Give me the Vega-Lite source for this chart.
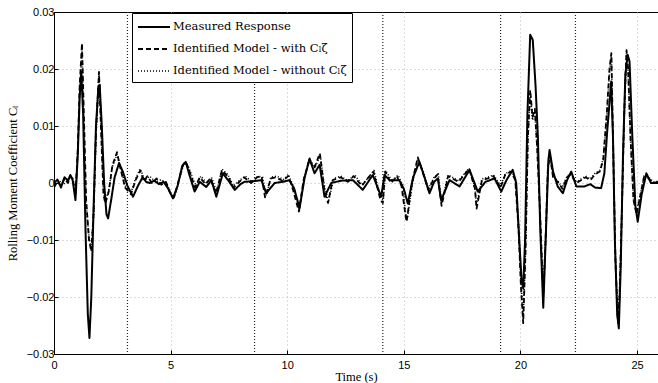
{
  "$schema": "https://vega.github.io/schema/vega-lite/v6.json",
  "width": 604,
  "height": 342,
  "autosize": {"type": "none"},
  "padding": {"left": 54, "top": 12, "right": 0, "bottom": 29},
  "background": "white",
  "config": {
    "view": {"stroke": "black", "strokeWidth": 1},
    "axis": {
      "domainColor": "black",
      "tickColor": "black",
      "tickSize": -4,
      "labelFont": "Liberation Sans",
      "labelFontSize": 11,
      "labelColor": "black",
      "titleFont": "Liberation Serif",
      "titleFontSize": 12.5,
      "titleFontWeight": "normal",
      "titleColor": "black",
      "gridColor": "#b8b8b8",
      "gridDash": [1, 3],
      "gridWidth": 1
    }
  },
  "layer": [
    {
      "data": {"values": [{"time": 3.15}, {"time": 8.6}, {"time": 14.1}, {"time": 19.15}, {"time": 22.36}]},
      "mark": {"type": "rule", "color": "#222", "strokeWidth": 1.2, "strokeDash": [1, 2]},
      "encoding": {"x": {"field": "time", "type": "quantitative", "scale": {"domain": [0, 25.9]}}}
    },
    {
      "data": {"values": [
{"time":0.0,"value":0.0000,"series":"m"},{"time":0.15,"value":0.0006,"series":"m"},{"time":0.3,"value":-0.0008,"series":"m"},{"time":0.45,"value":0.0010,"series":"m"},{"time":0.6,"value":0.0004,"series":"m"},{"time":0.7,"value":0.0014,"series":"m"},{"time":0.8,"value":0.0005,"series":"m"},{"time":0.92,"value":-0.0030,"series":"m"},{"time":1.02,"value":0.0050,"series":"m"},{"time":1.1,"value":0.0150,"series":"m"},{"time":1.17,"value":0.0195,"series":"m"},{"time":1.25,"value":0.0120,"series":"m"},{"time":1.35,"value":-0.0080,"series":"m"},{"time":1.45,"value":-0.0230,"series":"m"},{"time":1.52,"value":-0.0272,"series":"m"},{"time":1.6,"value":-0.0200,"series":"m"},{"time":1.7,"value":-0.0040,"series":"m"},{"time":1.8,"value":0.0100,"series":"m"},{"time":1.9,"value":0.0165,"series":"m"},{"time":1.96,"value":0.0172,"series":"m"},{"time":2.05,"value":0.0100,"series":"m"},{"time":2.15,"value":0.0000,"series":"m"},{"time":2.25,"value":-0.0055,"series":"m"},{"time":2.32,"value":-0.0062,"series":"m"},{"time":2.45,"value":-0.0030,"series":"m"},{"time":2.6,"value":0.0010,"series":"m"},{"time":2.79,"value":0.0035,"series":"m"},{"time":2.95,"value":0.0020,"series":"m"},{"time":3.15,"value":-0.0005,"series":"m"},{"time":3.39,"value":-0.0024,"series":"m"},{"time":3.6,"value":-0.0005,"series":"m"},{"time":3.8,"value":0.0010,"series":"m"},{"time":3.95,"value":0.0002,"series":"m"},{"time":4.1,"value":0.0000,"series":"m"},{"time":4.3,"value":0.0004,"series":"m"},{"time":4.5,"value":-0.0002,"series":"m"},{"time":4.7,"value":0.0002,"series":"m"},{"time":4.9,"value":-0.0010,"series":"m"},{"time":5.1,"value":-0.0027,"series":"m"},{"time":5.3,"value":-0.0005,"series":"m"},{"time":5.5,"value":0.0030,"series":"m"},{"time":5.65,"value":0.0037,"series":"m"},{"time":5.8,"value":0.0015,"series":"m"},{"time":6.03,"value":-0.0015,"series":"m"},{"time":6.25,"value":0.0002,"series":"m"},{"time":6.53,"value":-0.0007,"series":"m"},{"time":6.75,"value":0.0005,"series":"m"},{"time":6.96,"value":-0.0024,"series":"m"},{"time":7.24,"value":0.0017,"series":"m"},{"time":7.5,"value":0.0003,"series":"m"},{"time":7.75,"value":-0.0012,"series":"m"},{"time":8.0,"value":-0.0002,"series":"m"},{"time":8.17,"value":0.0002,"series":"m"},{"time":8.5,"value":0.0003,"series":"m"},{"time":8.89,"value":0.0005,"series":"m"},{"time":9.1,"value":-0.0018,"series":"m"},{"time":9.46,"value":0.0000,"series":"m"},{"time":9.8,"value":0.0002,"series":"m"},{"time":10.1,"value":0.0005,"series":"m"},{"time":10.3,"value":-0.0010,"series":"m"},{"time":10.53,"value":-0.0044,"series":"m"},{"time":10.75,"value":0.0010,"series":"m"},{"time":10.96,"value":0.0043,"series":"m"},{"time":11.17,"value":0.0017,"series":"m"},{"time":11.39,"value":0.0032,"series":"m"},{"time":11.6,"value":-0.0024,"series":"m"},{"time":11.89,"value":0.0000,"series":"m"},{"time":12.3,"value":0.0004,"series":"m"},{"time":12.82,"value":0.0005,"series":"m"},{"time":13.24,"value":-0.0012,"series":"m"},{"time":13.67,"value":0.0014,"series":"m"},{"time":14.03,"value":-0.0024,"series":"m"},{"time":14.17,"value":0.0014,"series":"m"},{"time":14.39,"value":0.0005,"series":"m"},{"time":14.8,"value":0.0005,"series":"m"},{"time":15.0,"value":-0.0010,"series":"m"},{"time":15.17,"value":-0.0036,"series":"m"},{"time":15.4,"value":0.0010,"series":"m"},{"time":15.67,"value":0.0037,"series":"m"},{"time":15.85,"value":0.0015,"series":"m"},{"time":16.1,"value":-0.0018,"series":"m"},{"time":16.3,"value":0.0002,"series":"m"},{"time":16.46,"value":0.0008,"series":"m"},{"time":16.6,"value":-0.0030,"series":"m"},{"time":16.96,"value":0.0005,"series":"m"},{"time":17.39,"value":-0.0006,"series":"m"},{"time":17.82,"value":0.0023,"series":"m"},{"time":18.17,"value":-0.0015,"series":"m"},{"time":18.5,"value":0.0002,"series":"m"},{"time":18.89,"value":0.0008,"series":"m"},{"time":19.18,"value":-0.0015,"series":"m"},{"time":19.4,"value":0.0005,"series":"m"},{"time":19.67,"value":0.0023,"series":"m"},{"time":19.82,"value":0.0000,"series":"m"},{"time":19.95,"value":-0.0100,"series":"m"},{"time":20.05,"value":-0.0170,"series":"m"},{"time":20.12,"value":-0.0185,"series":"m"},{"time":20.2,"value":-0.0100,"series":"m"},{"time":20.3,"value":0.0120,"series":"m"},{"time":20.42,"value":0.0260,"series":"m"},{"time":20.53,"value":0.0251,"series":"m"},{"time":20.65,"value":0.0170,"series":"m"},{"time":20.75,"value":0.0081,"series":"m"},{"time":20.85,"value":-0.0080,"series":"m"},{"time":20.98,"value":-0.0219,"series":"m"},{"time":21.1,"value":-0.0080,"series":"m"},{"time":21.2,"value":0.0040,"series":"m"},{"time":21.25,"value":0.0058,"series":"m"},{"time":21.4,"value":0.0020,"series":"m"},{"time":21.6,"value":-0.0006,"series":"m"},{"time":21.82,"value":-0.0018,"series":"m"},{"time":22.0,"value":0.0005,"series":"m"},{"time":22.18,"value":0.0020,"series":"m"},{"time":22.4,"value":-0.0006,"series":"m"},{"time":22.75,"value":-0.0006,"series":"m"},{"time":23.0,"value":-0.0002,"series":"m"},{"time":23.2,"value":-0.0008,"series":"m"},{"time":23.46,"value":-0.0009,"series":"m"},{"time":23.6,"value":0.0017,"series":"m"},{"time":23.72,"value":0.0090,"series":"m"},{"time":23.82,"value":0.0140,"series":"m"},{"time":23.89,"value":0.0178,"series":"m"},{"time":23.97,"value":0.0080,"series":"m"},{"time":24.05,"value":-0.0100,"series":"m"},{"time":24.15,"value":-0.0230,"series":"m"},{"time":24.22,"value":-0.0255,"series":"m"},{"time":24.3,"value":-0.0150,"series":"m"},{"time":24.4,"value":0.0050,"series":"m"},{"time":24.5,"value":0.0190,"series":"m"},{"time":24.6,"value":0.0225,"series":"m"},{"time":24.68,"value":0.0213,"series":"m"},{"time":24.8,"value":0.0080,"series":"m"},{"time":24.93,"value":-0.0040,"series":"m"},{"time":25.03,"value":-0.0068,"series":"m"},{"time":25.2,"value":-0.0020,"series":"m"},{"time":25.4,"value":0.0017,"series":"m"},{"time":25.6,"value":0.0000,"series":"m"},{"time":25.9,"value":0.0000,"series":"m"},
{"time":0.0,"value":-0.0008,"series":"w"},{"time":0.15,"value":0.0003,"series":"w"},{"time":0.3,"value":-0.0005,"series":"w"},{"time":0.45,"value":0.0008,"series":"w"},{"time":0.6,"value":0.0000,"series":"w"},{"time":0.7,"value":0.0012,"series":"w"},{"time":0.8,"value":0.0008,"series":"w"},{"time":0.92,"value":-0.0022,"series":"w"},{"time":1.02,"value":0.0060,"series":"w"},{"time":1.1,"value":0.0170,"series":"w"},{"time":1.2,"value":0.0245,"series":"w"},{"time":1.28,"value":0.0120,"series":"w"},{"time":1.38,"value":-0.0030,"series":"w"},{"time":1.5,"value":-0.0100,"series":"w"},{"time":1.6,"value":-0.0120,"series":"w"},{"time":1.7,"value":-0.0050,"series":"w"},{"time":1.8,"value":0.0090,"series":"w"},{"time":1.93,"value":0.0195,"series":"w"},{"time":2.02,"value":0.0090,"series":"w"},{"time":2.12,"value":-0.0020,"series":"w"},{"time":2.2,"value":-0.0036,"series":"w"},{"time":2.35,"value":-0.0015,"series":"w"},{"time":2.5,"value":0.0030,"series":"w"},{"time":2.7,"value":0.0054,"series":"w"},{"time":2.85,"value":0.0025,"series":"w"},{"time":3.05,"value":-0.0008,"series":"w"},{"time":3.3,"value":-0.0020,"series":"w"},{"time":3.5,"value":0.0005,"series":"w"},{"time":3.7,"value":0.0022,"series":"w"},{"time":3.85,"value":0.0003,"series":"w"},{"time":4.0,"value":0.0012,"series":"w"},{"time":4.2,"value":0.0000,"series":"w"},{"time":4.4,"value":0.0008,"series":"w"},{"time":4.6,"value":-0.0003,"series":"w"},{"time":4.8,"value":0.0002,"series":"w"},{"time":5.0,"value":-0.0020,"series":"w"},{"time":5.15,"value":-0.0025,"series":"w"},{"time":5.35,"value":0.0005,"series":"w"},{"time":5.55,"value":0.0035,"series":"w"},{"time":5.7,"value":0.0033,"series":"w"},{"time":5.9,"value":0.0010,"series":"w"},{"time":6.05,"value":-0.0008,"series":"w"},{"time":6.25,"value":0.0010,"series":"w"},{"time":6.5,"value":-0.0002,"series":"w"},{"time":6.7,"value":0.0008,"series":"w"},{"time":6.95,"value":-0.0018,"series":"w"},{"time":7.2,"value":0.0022,"series":"w"},{"time":7.45,"value":0.0012,"series":"w"},{"time":7.7,"value":-0.0008,"series":"w"},{"time":8.0,"value":0.0004,"series":"w"},{"time":8.15,"value":0.0010,"series":"w"},{"time":8.45,"value":0.0000,"series":"w"},{"time":8.7,"value":0.0010,"series":"w"},{"time":8.9,"value":0.0012,"series":"w"},{"time":9.05,"value":-0.0025,"series":"w"},{"time":9.3,"value":0.0008,"series":"w"},{"time":9.5,"value":0.0010,"series":"w"},{"time":9.8,"value":0.0004,"series":"w"},{"time":10.05,"value":0.0012,"series":"w"},{"time":10.25,"value":-0.0012,"series":"w"},{"time":10.5,"value":-0.0050,"series":"w"},{"time":10.7,"value":0.0005,"series":"w"},{"time":10.95,"value":0.0040,"series":"w"},{"time":11.15,"value":0.0025,"series":"w"},{"time":11.4,"value":0.0052,"series":"w"},{"time":11.6,"value":-0.0015,"series":"w"},{"time":11.75,"value":-0.0035,"series":"w"},{"time":11.95,"value":0.0005,"series":"w"},{"time":12.3,"value":0.0010,"series":"w"},{"time":12.6,"value":0.0002,"series":"w"},{"time":12.85,"value":0.0012,"series":"w"},{"time":13.2,"value":-0.0005,"series":"w"},{"time":13.45,"value":0.0008,"series":"w"},{"time":13.7,"value":0.0020,"series":"w"},{"time":14.0,"value":-0.0030,"series":"w"},{"time":14.1,"value":-0.0035,"series":"w"},{"time":14.2,"value":0.0020,"series":"w"},{"time":14.45,"value":0.0000,"series":"w"},{"time":14.7,"value":0.0012,"series":"w"},{"time":14.9,"value":-0.0005,"series":"w"},{"time":15.05,"value":-0.0050,"series":"w"},{"time":15.12,"value":-0.0068,"series":"w"},{"time":15.35,"value":0.0000,"series":"w"},{"time":15.6,"value":0.0045,"series":"w"},{"time":15.8,"value":0.0020,"series":"w"},{"time":16.05,"value":-0.0012,"series":"w"},{"time":16.3,"value":0.0008,"series":"w"},{"time":16.45,"value":0.0015,"series":"w"},{"time":16.62,"value":-0.0040,"series":"w"},{"time":16.9,"value":0.0012,"series":"w"},{"time":17.35,"value":0.0002,"series":"w"},{"time":17.8,"value":0.0025,"series":"w"},{"time":18.05,"value":-0.0010,"series":"w"},{"time":18.12,"value":-0.0045,"series":"w"},{"time":18.35,"value":0.0005,"series":"w"},{"time":18.6,"value":0.0008,"series":"w"},{"time":18.85,"value":0.0012,"series":"w"},{"time":19.15,"value":-0.0008,"series":"w"},{"time":19.35,"value":0.0015,"series":"w"},{"time":19.6,"value":0.0020,"series":"w"},{"time":19.78,"value":0.0005,"series":"w"},{"time":19.92,"value":-0.0080,"series":"w"},{"time":20.02,"value":-0.0180,"series":"w"},{"time":20.12,"value":-0.0246,"series":"w"},{"time":20.22,"value":-0.0120,"series":"w"},{"time":20.32,"value":0.0080,"series":"w"},{"time":20.42,"value":0.0163,"series":"w"},{"time":20.52,"value":0.0116,"series":"w"},{"time":20.62,"value":0.0130,"series":"w"},{"time":20.72,"value":0.0060,"series":"w"},{"time":20.85,"value":-0.0060,"series":"w"},{"time":20.98,"value":-0.0200,"series":"w"},{"time":21.08,"value":-0.0100,"series":"w"},{"time":21.18,"value":0.0030,"series":"w"},{"time":21.28,"value":0.0045,"series":"w"},{"time":21.4,"value":0.0010,"series":"w"},{"time":21.6,"value":0.0002,"series":"w"},{"time":21.8,"value":-0.0010,"series":"w"},{"time":22.0,"value":0.0010,"series":"w"},{"time":22.15,"value":0.0015,"series":"w"},{"time":22.4,"value":0.0000,"series":"w"},{"time":22.6,"value":0.0005,"series":"w"},{"time":22.8,"value":0.0010,"series":"w"},{"time":23.0,"value":0.0005,"series":"w"},{"time":23.2,"value":0.0015,"series":"w"},{"time":23.4,"value":0.0020,"series":"w"},{"time":23.55,"value":0.0040,"series":"w"},{"time":23.7,"value":0.0120,"series":"w"},{"time":23.82,"value":0.0200,"series":"w"},{"time":23.9,"value":0.0228,"series":"w"},{"time":23.98,"value":0.0060,"series":"w"},{"time":24.07,"value":-0.0130,"series":"w"},{"time":24.18,"value":-0.0245,"series":"w"},{"time":24.25,"value":-0.0200,"series":"w"},{"time":24.35,"value":-0.0050,"series":"w"},{"time":24.45,"value":0.0120,"series":"w"},{"time":24.55,"value":0.0233,"series":"w"},{"time":24.62,"value":0.0200,"series":"w"},{"time":24.72,"value":0.0080,"series":"w"},{"time":24.85,"value":-0.0030,"series":"w"},{"time":24.98,"value":-0.0055,"series":"w"},{"time":25.1,"value":-0.0030,"series":"w"},{"time":25.3,"value":0.0010,"series":"w"},{"time":25.5,"value":0.0008,"series":"w"},{"time":25.7,"value":0.0000,"series":"w"},{"time":25.9,"value":0.0002,"series":"w"},
{"time":0.0,"value":-0.0005,"series":"wo"},{"time":0.2,"value":0.0005,"series":"wo"},{"time":0.4,"value":-0.0003,"series":"wo"},{"time":0.6,"value":0.0005,"series":"wo"},{"time":0.8,"value":0.0010,"series":"wo"},{"time":0.92,"value":-0.0018,"series":"wo"},{"time":1.02,"value":0.0055,"series":"wo"},{"time":1.1,"value":0.0160,"series":"wo"},{"time":1.2,"value":0.0235,"series":"wo"},{"time":1.28,"value":0.0115,"series":"wo"},{"time":1.38,"value":-0.0035,"series":"wo"},{"time":1.5,"value":-0.0095,"series":"wo"},{"time":1.6,"value":-0.0115,"series":"wo"},{"time":1.7,"value":-0.0055,"series":"wo"},{"time":1.8,"value":0.0085,"series":"wo"},{"time":1.93,"value":0.0190,"series":"wo"},{"time":2.02,"value":0.0095,"series":"wo"},{"time":2.12,"value":-0.0015,"series":"wo"},{"time":2.2,"value":-0.0032,"series":"wo"},{"time":2.35,"value":-0.0012,"series":"wo"},{"time":2.5,"value":0.0028,"series":"wo"},{"time":2.7,"value":0.0050,"series":"wo"},{"time":2.85,"value":0.0028,"series":"wo"},{"time":3.05,"value":-0.0005,"series":"wo"},{"time":3.3,"value":-0.0017,"series":"wo"},{"time":3.5,"value":0.0008,"series":"wo"},{"time":3.7,"value":0.0025,"series":"wo"},{"time":3.9,"value":0.0005,"series":"wo"},{"time":4.1,"value":0.0012,"series":"wo"},{"time":4.35,"value":0.0002,"series":"wo"},{"time":4.6,"value":0.0006,"series":"wo"},{"time":4.85,"value":-0.0002,"series":"wo"},{"time":5.05,"value":-0.0022,"series":"wo"},{"time":5.2,"value":-0.0020,"series":"wo"},{"time":5.4,"value":0.0010,"series":"wo"},{"time":5.6,"value":0.0038,"series":"wo"},{"time":5.75,"value":0.0030,"series":"wo"},{"time":5.95,"value":0.0008,"series":"wo"},{"time":6.1,"value":-0.0005,"series":"wo"},{"time":6.3,"value":0.0012,"series":"wo"},{"time":6.55,"value":0.0000,"series":"wo"},{"time":6.75,"value":0.0010,"series":"wo"},{"time":6.98,"value":-0.0015,"series":"wo"},{"time":7.2,"value":0.0025,"series":"wo"},{"time":7.45,"value":0.0015,"series":"wo"},{"time":7.7,"value":-0.0005,"series":"wo"},{"time":8.0,"value":0.0006,"series":"wo"},{"time":8.2,"value":0.0012,"series":"wo"},{"time":8.5,"value":0.0002,"series":"wo"},{"time":8.75,"value":0.0012,"series":"wo"},{"time":8.95,"value":0.0010,"series":"wo"},{"time":9.1,"value":-0.0022,"series":"wo"},{"time":9.3,"value":0.0010,"series":"wo"},{"time":9.55,"value":0.0012,"series":"wo"},{"time":9.85,"value":0.0006,"series":"wo"},{"time":10.05,"value":0.0015,"series":"wo"},{"time":10.3,"value":-0.0010,"series":"wo"},{"time":10.52,"value":-0.0048,"series":"wo"},{"time":10.72,"value":0.0008,"series":"wo"},{"time":10.95,"value":0.0042,"series":"wo"},{"time":11.2,"value":0.0028,"series":"wo"},{"time":11.42,"value":0.0048,"series":"wo"},{"time":11.62,"value":-0.0012,"series":"wo"},{"time":11.78,"value":-0.0030,"series":"wo"},{"time":12.0,"value":0.0008,"series":"wo"},{"time":12.3,"value":0.0012,"series":"wo"},{"time":12.6,"value":0.0004,"series":"wo"},{"time":12.9,"value":0.0014,"series":"wo"},{"time":13.2,"value":-0.0003,"series":"wo"},{"time":13.5,"value":0.0010,"series":"wo"},{"time":13.72,"value":0.0022,"series":"wo"},{"time":14.0,"value":-0.0025,"series":"wo"},{"time":14.12,"value":-0.0030,"series":"wo"},{"time":14.22,"value":0.0022,"series":"wo"},{"time":14.5,"value":0.0003,"series":"wo"},{"time":14.75,"value":0.0014,"series":"wo"},{"time":14.95,"value":-0.0003,"series":"wo"},{"time":15.08,"value":-0.0055,"series":"wo"},{"time":15.15,"value":-0.0062,"series":"wo"},{"time":15.38,"value":0.0002,"series":"wo"},{"time":15.6,"value":0.0042,"series":"wo"},{"time":15.82,"value":0.0022,"series":"wo"},{"time":16.05,"value":-0.0010,"series":"wo"},{"time":16.3,"value":0.0010,"series":"wo"},{"time":16.48,"value":0.0016,"series":"wo"},{"time":16.62,"value":-0.0035,"series":"wo"},{"time":16.9,"value":0.0014,"series":"wo"},{"time":17.35,"value":0.0004,"series":"wo"},{"time":17.8,"value":0.0026,"series":"wo"},{"time":18.05,"value":-0.0008,"series":"wo"},{"time":18.12,"value":-0.0040,"series":"wo"},{"time":18.35,"value":0.0007,"series":"wo"},{"time":18.6,"value":0.0010,"series":"wo"},{"time":18.85,"value":0.0014,"series":"wo"},{"time":19.15,"value":-0.0005,"series":"wo"},{"time":19.35,"value":0.0016,"series":"wo"},{"time":19.6,"value":0.0022,"series":"wo"},{"time":19.78,"value":0.0008,"series":"wo"},{"time":19.92,"value":-0.0075,"series":"wo"},{"time":20.02,"value":-0.0170,"series":"wo"},{"time":20.12,"value":-0.0235,"series":"wo"},{"time":20.22,"value":-0.0115,"series":"wo"},{"time":20.32,"value":0.0075,"series":"wo"},{"time":20.42,"value":0.0155,"series":"wo"},{"time":20.52,"value":0.0110,"series":"wo"},{"time":20.62,"value":0.0125,"series":"wo"},{"time":20.72,"value":0.0058,"series":"wo"},{"time":20.85,"value":-0.0055,"series":"wo"},{"time":20.98,"value":-0.0190,"series":"wo"},{"time":21.08,"value":-0.0095,"series":"wo"},{"time":21.18,"value":0.0028,"series":"wo"},{"time":21.28,"value":0.0042,"series":"wo"},{"time":21.4,"value":0.0012,"series":"wo"},{"time":21.6,"value":0.0004,"series":"wo"},{"time":21.8,"value":-0.0008,"series":"wo"},{"time":22.0,"value":0.0012,"series":"wo"},{"time":22.15,"value":0.0016,"series":"wo"},{"time":22.4,"value":0.0002,"series":"wo"},{"time":22.6,"value":0.0007,"series":"wo"},{"time":22.8,"value":0.0012,"series":"wo"},{"time":23.0,"value":0.0007,"series":"wo"},{"time":23.2,"value":0.0017,"series":"wo"},{"time":23.4,"value":0.0022,"series":"wo"},{"time":23.55,"value":0.0042,"series":"wo"},{"time":23.7,"value":0.0115,"series":"wo"},{"time":23.82,"value":0.0195,"series":"wo"},{"time":23.9,"value":0.0222,"series":"wo"},{"time":23.98,"value":0.0060,"series":"wo"},{"time":24.07,"value":-0.0125,"series":"wo"},{"time":24.18,"value":-0.0238,"series":"wo"},{"time":24.25,"value":-0.0195,"series":"wo"},{"time":24.35,"value":-0.0048,"series":"wo"},{"time":24.45,"value":0.0115,"series":"wo"},{"time":24.55,"value":0.0228,"series":"wo"},{"time":24.62,"value":0.0195,"series":"wo"},{"time":24.72,"value":0.0078,"series":"wo"},{"time":24.85,"value":-0.0028,"series":"wo"},{"time":24.98,"value":-0.0052,"series":"wo"},{"time":25.1,"value":-0.0028,"series":"wo"},{"time":25.3,"value":0.0012,"series":"wo"},{"time":25.5,"value":0.0010,"series":"wo"},{"time":25.7,"value":0.0002,"series":"wo"},{"time":25.9,"value":0.0003,"series":"wo"}
      ]},
      "mark": {"type": "line", "color": "black", "clip": true, "strokeJoin": "round"},
      "encoding": {
        "x": {
          "field": "time", "type": "quantitative",
          "scale": {"domain": [0, 25.9], "nice": false, "zero": false},
          "axis": {"values": [0, 5, 10, 15, 20, 25], "title": "Time (s)", "grid": true, "labelPadding": 9, "titlePadding": 0, "labelFlush": false,
                   "gridOpacity": {"condition": {"test": "datum.value == 0", "value": 0}, "value": 1}}
        },
        "y": {
          "field": "value", "type": "quantitative",
          "scale": {"domain": [-0.03, 0.03], "nice": false},
          "axis": {"values": [-0.03, -0.02, -0.01, 0, 0.01, 0.02, 0.03], "format": ".2~f", "title": "Rolling Moment Coefficient Cₗ", "grid": true, "labelPadding": 4, "titlePadding": 7, "labelFlush": false,
                   "gridOpacity": {"condition": {"test": "abs(datum.value) > 0.025", "value": 0}, "value": 1}}
        },
        "strokeDash": {
          "field": "series", "type": "nominal",
          "scale": {"domain": ["m", "w", "wo"], "range": [[1, 0], [5, 3], [1, 2]]},
          "legend": {
            "title": null,
            "orient": "none",
            "legendX": 78,
            "legendY": 1,
            "direction": "vertical",
            "strokeColor": "black",
            "fillColor": "white",
            "padding": 5,
            "rowPadding": 7,
            "symbolType": "M-2,0H2",
            "symbolSize": 256,
            "symbolOffset": 8,
            "symbolStrokeColor": "black",
            "labelOffset": 10,
            "labelFont": "DejaVu Serif",
            "labelFontSize": 11.5,
            "labelColor": "black",
            "labelLimit": 400,
            "labelExpr": "datum.label == 'm' ? 'Measured Response' : datum.label == 'w' ? 'Identified Model - with Cₗζ' : 'Identified Model - without Cₗζ\u00a0\u00a0\u00a0\u00a0\u00a0'"
          }
        },
        "strokeWidth": {
          "field": "series", "type": "nominal",
          "scale": {"domain": ["m", "w", "wo"], "range": [2, 1.6, 0.9]},
          "legend": null
        }
      }
    }
  ]
}
